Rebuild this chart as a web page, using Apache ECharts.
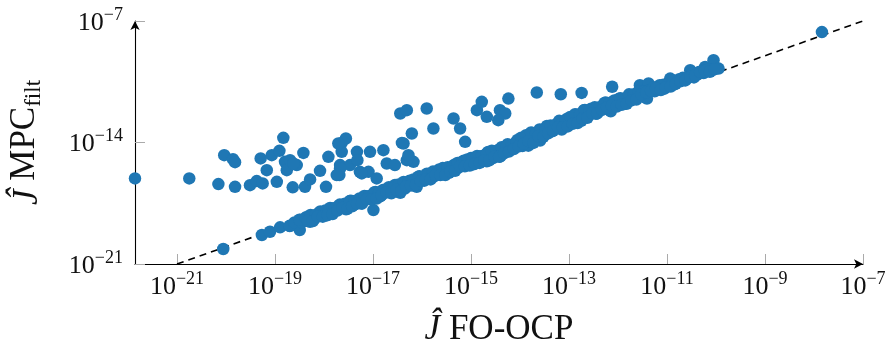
<!DOCTYPE html>
<html>
<head>
<meta charset="utf-8">
<script src="https://cdn.jsdelivr.net/npm/echarts@6/dist/echarts.min.js"></script>
<style>
html,body{margin:0;padding:0;background:#fff;}
#chart{width:885px;height:352px;}
</style>
</head>
<body>
<div id="chart"></div>
<script>
// x: Ĵ FO-OCP, y: Ĵ MPC_filt
const foValues = [
  1.39e-22, 1.78e-21, 7.0e-21, 9.2e-21, 1.39e-20, 1.53e-20, 1.53e-20, 3.09e-20, 4.24e-20, 5.1e-20,
  5.6e-20, 6.8e-20, 8.6e-20, 1.09e-19, 1.23e-19, 1.48e-19, 1.6e-19, 1.74e-19, 2.03e-19, 2.3e-19,
  2.78e-19, 3.8e-19, 4.1e-19, 5.2e-19, 8.3e-19, 1.1e-18, 1.23e-18, 2.06e-18, 2.13e-18, 2.3e-18,
  2.8e-18, 2.3e-18, 3.4e-18, 4.7e-18, 4.8e-18, 5.4e-18, 8.1e-18, 8.7e-18, 1.19e-17, 1.02e-17,
  2.37e-19, 1.96e-18, 2.13e-18, 1.63e-17, 1.91e-17, 2.8e-17, 4.2e-17, 6.7e-17, 4.9e-17, 7.6e-16,
  1.82e-18, 5.9e-18, 3.6e-17, 4.9e-17, 1.25e-16, 6.2e-17, 1.71e-16, 3.9e-17, 5.3e-17, 4.4e-16,
  6.0e-16, 1.32e-15, 1.66e-15, 2.1e-15, 3.9e-15, 5.0e-15, 3.6e-15, 5.8e-15, 2.2e-14, 6.8e-14,
  1.81e-13, 7.6e-13, 2.8e-12, 4.2e-12, 3.9e-12, 1.16e-11, 2.98e-11, 6.0e-11, 8.9e-11, 1.13e-10,
  1.45e-8, 8.8e-21, 5.4e-20, 7.9e-20, 1.27e-19, 2.0e-19, 3.2e-19, 3.2e-19, 5.2e-19,
  // band, row A
  2.0e-19, 2.5e-19, 3.55e-19, 4.47e-19, 6.3e-19, 7.9e-19, 1.12e-18, 1.41e-18, 1.78e-18, 2.24e-18,
  2.82e-18, 3.55e-18, 4.47e-18, 5.6e-18, 7.1e-18, 8.9e-18, 1.12e-17, 1.41e-17, 1.78e-17, 2.24e-17,
  2.82e-17, 3.55e-17, 4.47e-17, 5.6e-17, 7.1e-17, 8.9e-17, 1.12e-16, 1.41e-16, 1.78e-16, 2.24e-16,
  2.82e-16, 3.55e-16, 4.47e-16, 5.6e-16, 7.1e-16, 8.9e-16, 1.12e-15, 1.41e-15, 1.78e-15, 2.24e-15,
  2.82e-15, 3.55e-15, 4.47e-15, 5.6e-15, 7.1e-15, 8.9e-15, 1.12e-14, 1.41e-14, 1.78e-14, 2.24e-14,
  2.82e-14, 3.55e-14, 4.47e-14, 5.6e-14, 7.1e-14, 8.9e-14, 1.12e-13, 1.41e-13, 1.78e-13, 2.24e-13,
  2.82e-13, 3.55e-13, 4.47e-13, 5.6e-13, 7.1e-13, 8.9e-13, 1.12e-12, 1.41e-12, 1.78e-12, 2.24e-12,
  2.82e-12, 3.55e-12, 4.47e-12, 5.6e-12, 7.1e-12, 8.9e-12, 1.12e-11, 1.41e-11, 1.78e-11, 2.24e-11,
  2.82e-11, 3.55e-11, 4.47e-11, 5.6e-11, 7.1e-11, 8.9e-11,
  // band, row B
  3.16e-19, 1.0e-18, 2.0e-18, 3.98e-18, 7.9e-18, 1.58e-17, 3.16e-17, 6.3e-17, 1.26e-16, 2.51e-16,
  5.0e-16, 1.0e-15, 2.0e-15, 3.98e-15, 7.9e-15, 1.58e-14, 2.51e-14, 3.98e-14, 6.3e-14, 1.26e-13,
  2.0e-13, 3.98e-13, 7.9e-13, 1.58e-12, 3.16e-12, 6.3e-12, 1.26e-11, 2.51e-11,
  3.6e-17, 7.8e-17, 2.1e-15, 1.48e-14, 2.57e-14,
  // band, row C (upper side)
  4.22e-19, 5.31e-19, 6.68e-19, 8.41e-19,
  1.06e-18, 1.33e-18, 1.68e-18, 2.11e-18, 2.66e-18, 3.35e-18, 4.22e-18, 5.31e-18, 6.68e-18, 8.41e-18,
  1.06e-17, 1.33e-17, 1.68e-17, 2.11e-17, 2.66e-17, 3.35e-17, 4.22e-17, 5.31e-17, 6.68e-17, 8.41e-17,
  1.06e-16, 1.33e-16, 1.68e-16, 2.11e-16, 2.66e-16, 3.35e-16, 4.22e-16, 5.31e-16, 6.68e-16, 8.41e-16,
  1.06e-15, 1.33e-15, 1.68e-15, 2.11e-15, 2.66e-15, 3.35e-15, 4.22e-15, 5.31e-15, 6.68e-15, 8.41e-15,
  1.06e-14, 1.33e-14, 1.68e-14, 2.11e-14, 2.66e-14, 3.35e-14, 4.22e-14, 5.31e-14, 6.68e-14, 8.41e-14,
  1.06e-13, 1.33e-13, 1.68e-13, 2.11e-13, 2.66e-13, 3.35e-13, 4.22e-13, 5.31e-13, 6.68e-13, 8.41e-13,
  1.06e-12, 1.33e-12, 1.68e-12, 2.11e-12, 2.66e-12, 3.35e-12, 4.22e-12, 5.31e-12, 6.68e-12, 8.41e-12,
  1.06e-11, 1.33e-11, 1.68e-11, 2.11e-11, 2.66e-11, 3.35e-11, 4.22e-11, 5.31e-11, 6.68e-11, 8.41e-11,
  // band, row D (lower side)
  4.73e-19, 5.96e-19, 7.50e-19, 9.44e-19,
  1.19e-18, 1.50e-18, 1.88e-18, 2.37e-18, 2.99e-18, 3.76e-18, 4.73e-18, 5.96e-18, 7.50e-18, 9.44e-18,
  1.19e-17, 1.50e-17, 1.88e-17, 2.37e-17, 2.99e-17, 3.76e-17, 4.73e-17, 5.96e-17, 7.50e-17, 9.44e-17,
  1.19e-16, 1.50e-16, 1.88e-16, 2.37e-16, 2.99e-16, 3.76e-16, 4.73e-16, 5.96e-16, 7.50e-16, 9.44e-16,
  1.19e-15, 1.50e-15, 1.88e-15, 2.37e-15, 2.99e-15, 3.76e-15, 4.73e-15, 5.96e-15, 7.50e-15, 9.44e-15,
  1.19e-14, 1.50e-14, 1.88e-14, 2.37e-14, 2.99e-14, 3.76e-14, 4.73e-14, 5.96e-14, 7.50e-14, 9.44e-14,
  1.19e-13, 1.50e-13, 1.88e-13, 2.37e-13, 2.99e-13, 3.76e-13, 4.73e-13, 5.96e-13, 7.50e-13, 9.44e-13,
  1.19e-12, 1.50e-12, 1.88e-12, 2.37e-12, 2.99e-12, 3.76e-12, 4.73e-12, 5.96e-12, 7.50e-12, 9.44e-12,
  1.19e-11, 1.50e-11, 1.88e-11, 2.37e-11, 2.99e-11, 3.76e-11, 4.73e-11, 5.96e-11, 7.50e-11, 9.44e-11
];
const mpcValues = [
  8.5e-17, 8.5e-17, 4.0e-17, 1.87e-15, 1.1e-15, 7.4e-16, 2.8e-17, 3.5e-17, 6.0e-17, 1.21e-15,
  4.4e-17, 2.56e-16, 1.87e-15, 5.4e-17, 3.3e-15, 1.85e-14, 7.7e-16, 2.56e-16, 9.6e-16, 2.6e-17,
  5.0e-16, 2.5e-15, 2.8e-17, 7.5e-17, 2.33e-16, 2.8e-17, 1.49e-15, 1.32e-16, 5.0e-16, 9.5e-15,
  1.7e-14, 2.9e-15, 5.0e-16, 2.9e-15, 9.6e-16, 2.05e-16, 2.05e-16, 2.9e-15, 8.5e-17, 1.28e-18,
  6.2e-16, 8.8e-15, 3.3e-16, 3.6e-15, 6.2e-16, 5.0e-16, 8.8e-15, 7.7e-16, 9.6e-16, 1.09e-14,
  1.32e-16, 1.66e-16, 4.7e-13, 7.3e-13, 9.1e-13, 3.3e-14, 6.4e-14, 9.5e-15, 1.87e-15, 2.4e-13,
  6.4e-14, 7.3e-13, 2.2e-12, 3.0e-13, 7.3e-13, 4.7e-13, 1.93e-13, 3.4e-12, 7.6e-12, 6.0e-12,
  7.2e-12, 1.63e-11, 2.0e-11, 2.5e-11, 3.4e-12, 4.8e-11, 1.45e-10, 2.25e-10, 5.5e-10, 1.82e-10,
  2.3e-8, 7.3e-21, 4.7e-20, 7.2e-20, 1.29e-19, 1.54e-19, 9.0e-20, 3.4e-19, 2.7e-19,
  // band, row A
  1.58e-19, 2.5e-19, 2.5e-19, 5.0e-19, 4.0e-19, 8.9e-19, 6.3e-19, 1.58e-18, 1.26e-18, 2.24e-18,
  1.41e-18, 4.47e-18, 3.55e-18, 3.16e-18, 7.9e-18, 6.3e-18, 1.41e-17, 7.9e-18, 1.78e-17, 1.41e-17,
  3.55e-17, 2.82e-17, 2.24e-17, 6.3e-17, 5.0e-17, 1.12e-16, 6.3e-17, 1.41e-16, 1.12e-16, 2.82e-16,
  2.24e-16, 1.78e-16, 5.0e-16, 3.55e-16, 8.9e-16, 7.1e-16, 5.6e-16, 1.58e-15, 1.12e-15, 2.82e-15,
  1.26e-15, 3.55e-15, 2.82e-15, 7.9e-15, 5.6e-15, 1.41e-14, 6.3e-15, 1.78e-14, 3.55e-14, 2.0e-14,
  4.47e-14, 8.9e-14, 4.47e-14, 1.0e-13, 5.6e-14, 2.24e-13, 1.58e-13, 4.0e-13, 1.78e-13, 4.47e-13,
  8.9e-13, 4.47e-13, 1.0e-12, 2.0e-12, 6.3e-13, 1.78e-12, 3.55e-12, 1.78e-12, 4.47e-12, 3.55e-12,
  1.0e-11, 3.98e-12, 1.0e-11, 8.9e-12, 2.0e-11, 1.26e-11, 2.51e-11, 2.24e-11, 4.47e-11, 3.98e-11,
  6.3e-11, 5.6e-11, 1.12e-10, 1.0e-10, 1.58e-10, 1.58e-10,
  // band, row B
  3.55e-19, 8.9e-19, 2.24e-18, 2.51e-18, 7.1e-18, 1.78e-17, 2.0e-17, 5.6e-17, 1.58e-16, 1.58e-16,
  5.0e-16, 1.26e-15, 1.78e-15, 1.58e-15, 8.9e-15, 1.12e-14, 5.6e-14, 5.6e-14, 1.78e-13, 2.24e-13,
  7.1e-13, 6.3e-13, 2.24e-12, 2.82e-12, 8.9e-12, 1.26e-11, 2.24e-11, 5.0e-11,
  1.27e-17, 2.8e-17, 8.3e-16, 6.6e-15, 1.29e-14,
  // band, row C (upper side)
  4.73e-19, 6.68e-19, 6.68e-19, 1.06e-18,
  1.19e-18, 1.68e-18, 1.68e-18, 2.66e-18, 2.99e-18, 4.22e-18, 4.22e-18, 5.96e-18, 8.41e-18, 8.41e-18,
  1.33e-17, 1.33e-17, 1.88e-17, 2.66e-17, 2.66e-17, 3.76e-17, 5.31e-17, 5.31e-17, 7.50e-17, 1.06e-16,
  1.06e-16, 1.50e-16, 2.11e-16, 2.11e-16, 3.35e-16, 3.76e-16, 4.22e-16, 6.68e-16, 7.50e-16, 1.06e-15,
  1.19e-15, 1.68e-15, 1.68e-15, 2.37e-15, 3.35e-15, 3.35e-15, 5.31e-15, 5.96e-15, 6.68e-15, 1.06e-14,
  1.88e-14, 2.66e-14, 3.76e-14, 3.35e-14, 5.31e-14, 5.96e-14, 9.44e-14, 1.06e-13, 1.06e-13, 1.68e-13,
  2.99e-13, 4.22e-13, 4.22e-13, 7.50e-13, 7.50e-13, 1.06e-12, 1.06e-12, 1.88e-12, 1.88e-12, 2.66e-12,
  3.35e-12, 3.35e-12, 5.96e-12, 5.96e-12, 8.41e-12, 8.41e-12, 9.44e-12, 1.50e-11, 1.33e-11, 2.11e-11,
  2.37e-11, 3.76e-11, 3.35e-11, 5.31e-11, 5.96e-11, 9.44e-11, 8.41e-11, 1.33e-10, 1.50e-10, 1.68e-10,
  // band, row D (lower side)
  2.99e-19, 2.99e-19, 5.31e-19, 5.31e-19,
  6.68e-19, 7.50e-19, 1.19e-18, 1.68e-18, 1.50e-18, 2.11e-18, 2.99e-18, 2.99e-18, 5.31e-18, 5.31e-18,
  5.96e-18, 9.44e-18, 1.33e-17, 1.19e-17, 1.88e-17, 1.68e-17, 2.99e-17, 3.35e-17, 3.76e-17, 5.96e-17,
  7.50e-17, 7.50e-17, 1.33e-16, 1.33e-16, 1.33e-16, 2.11e-16, 2.37e-16, 4.22e-16, 4.22e-16, 4.73e-16,
  5.96e-16, 6.68e-16, 9.44e-16, 9.44e-16, 1.50e-15, 1.50e-15, 2.37e-15, 2.99e-15, 4.22e-15, 5.96e-15,
  8.41e-15, 1.19e-14, 9.44e-15, 2.37e-14, 2.11e-14, 3.35e-14, 4.73e-14, 7.50e-14, 7.50e-14, 8.41e-14,
  1.19e-13, 1.33e-13, 2.37e-13, 2.66e-13, 4.73e-13, 4.73e-13, 7.50e-13, 1.06e-12, 1.33e-12, 1.19e-12,
  1.50e-12, 1.68e-12, 2.66e-12, 2.99e-12, 5.96e-12, 7.50e-12, 9.44e-12, 1.33e-11, 1.06e-11, 1.50e-11,
  1.68e-11, 2.37e-11, 3.35e-11, 3.76e-11, 5.96e-11, 7.50e-11, 1.19e-10, 1.33e-10, 1.19e-10, 1.68e-10
];
const refLineX = [1e-21, 1e-7];
const xTickValues = [1e-21, 1e-19, 1e-17, 1e-15, 1e-13, 1e-11, 1e-9, 1e-7];
const yTickValues = [1e-21, 1e-14, 1e-7];
const xMin = 1.39e-22, xMax = 1e-7;
const yMin = 1e-21, yMax = 1e-7;

const FONT = "'Liberation Serif', 'DejaVu Serif', serif";
const points = foValues.map((v, i) => [v, mpcValues[i]]);
const lineData = refLineX.map(v => [v, v]);

function expLabel(v) {
  const e = Math.round(Math.log10(v));
  const s = e < 0 ? '\u2212' + (-e) : String(e);
  return '{b|10}{e|' + s + '}';
}
const richTick = {
  b: {fontFamily: FONT, fontSize: 26, color: '#111', lineHeight: 30, verticalAlign: 'bottom'},
  e: {fontFamily: FONT, fontSize: 18, color: '#111', lineHeight: 18, verticalAlign: 'top'}
};

const chart = echarts.init(document.getElementById('chart'), null, {renderer: 'canvas', width: 885, height: 352});
chart.setOption({
  animation: false,
  backgroundColor: '#fff',
  grid: {left: 135, right: 22, top: 21, bottom: 88, containLabel: false, outerBoundsMode: 'none'},
  xAxis: {
    type: 'log', logBase: 10, min: xMin, max: xMax,
    name: '{j|\u0134} FO-OCP', nameLocation: 'middle', nameGap: 48, nameMoveOverlap: false,
    nameTextStyle: {fontFamily: FONT, fontSize: 35, color: '#111',
      rich: {j: {fontFamily: FONT, fontSize: 35, fontStyle: 'italic', color: '#111'}}},
    axisLine: {show: true, onZero: false, symbol: ['none', 'arrow'], symbolSize: [7, 9],
      lineStyle: {color: '#000', width: 1.1}},
    axisTick: {show: true, inside: true, length: 10, customValues: xTickValues, lineStyle: {color: '#aaa', width: 1}},
    axisLabel: {show: true, margin: 6, customValues: xTickValues, formatter: expLabel, rich: richTick,
      showMinLabel: true, showMaxLabel: true, hideOverlap: false},
    splitLine: {show: false},
    minorTick: {show: false}
  },
  yAxis: {
    type: 'log', logBase: 10, min: yMin, max: yMax,
    name: '{j|\u0134} MPC{s|filt}', nameLocation: 'middle', nameGap: 90, nameRotate: 90, nameMoveOverlap: false,
    nameTextStyle: {fontFamily: FONT, fontSize: 35, color: '#111',
      rich: {
        j: {fontFamily: FONT, fontSize: 35, fontStyle: 'italic', color: '#111', lineHeight: 40, verticalAlign: 'bottom'},
        s: {fontFamily: FONT, fontSize: 23, color: '#111', lineHeight: 32, verticalAlign: 'bottom'}
      }},
    axisLine: {show: true, onZero: false, symbol: ['none', 'arrow'], symbolSize: [7, 9],
      lineStyle: {color: '#000', width: 1.1}},
    axisTick: {show: true, inside: true, length: 10, customValues: yTickValues, lineStyle: {color: '#aaa', width: 1}},
    axisLabel: {show: true, margin: 12, customValues: yTickValues, formatter: expLabel, rich: richTick,
      showMinLabel: true, showMaxLabel: true, hideOverlap: false},
    splitLine: {show: false},
    minorTick: {show: false}
  },
  series: [
    {
      type: 'line', data: lineData, symbol: 'none', z: 2, silent: true,
      lineStyle: {color: '#000', width: 1.6, type: [7, 5]}
    },
    {
      type: 'scatter', data: points, symbol: 'circle', symbolSize: 12.5, z: 3,
      itemStyle: {color: '#1f77b4', opacity: 1}
    }
  ]
});
</script>
</body>
</html>
